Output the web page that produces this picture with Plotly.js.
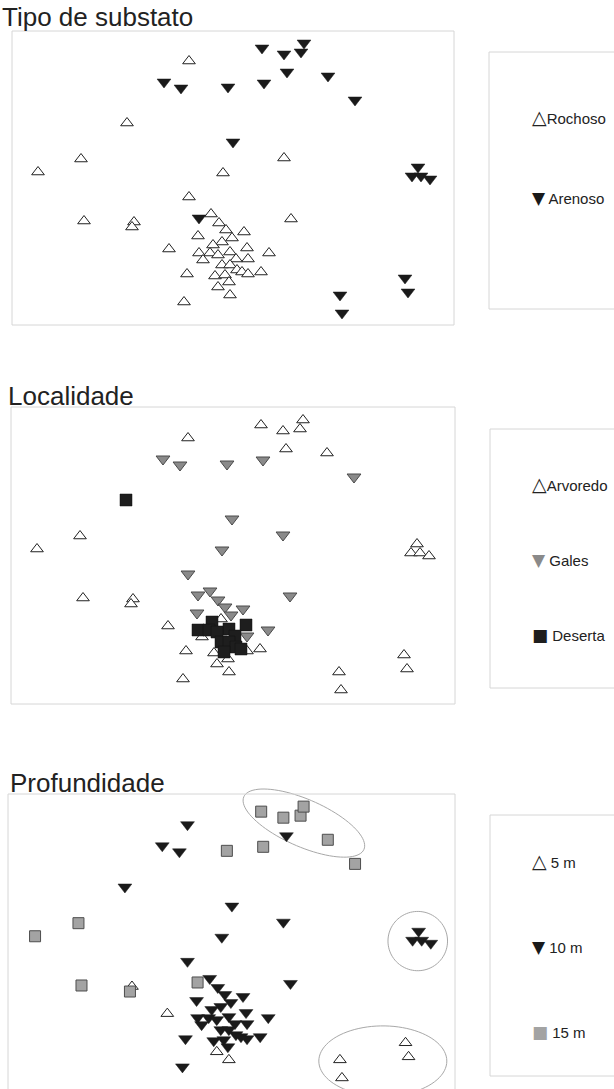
<!DOCTYPE html>
<html>
<head>
<meta charset="utf-8">
<script src="https://cdn.plot.ly/plotly-3.0.1.min.js"></script>
<style>html,body{margin:0;padding:0;background:#fff;}#chart{width:614px;height:1089px;}</style>
</head>
<body>
<div id="chart"></div>
<script>
// nMDS ordination scores (same samples shown in all three panels)
const nmds1 = [0.29,0.51,0.68,0.71,0.54,0.95,1.22,-0.69,-0.52,-0.05,0.31,0.00,1.85,1.79,1.88,1.97,-0.34,1.72,1.75,1.07,1.09,
  -0.44,-1.06,-1.52,-1.95,0.51,-0.10,-0.44,-1.49,-0.99,-1.01,0.58,-0.64,-0.46,-0.49,-0.03,-0.15,0.36,0.28,
  -0.22,-0.14,-0.07,0.11,-0.35,-0.01,-0.11,-0.20,0.14,-0.03,-0.34,-0.23,-0.30,-0.15,0.15,0.03,-0.11,-0.03,0.04,-0.18,-0.08,0.09,0.15,-0.04];
const nmds2 = [1.30,1.24,1.26,1.35,1.06,1.02,0.78,0.96,0.90,0.91,0.95,0.36,0.11,0.02,0.02,-0.01,-0.40,-1.00,-1.14,-1.17,-1.35,
  1.17,0.55,0.19,0.06,0.20,0.05,-0.19,-0.43,-0.44,-0.49,-0.41,-0.71,-0.96,-1.24,-1.17,-1.09,-0.75,-0.94,
  -0.36,-0.45,-0.52,-0.54,-0.58,-0.60,-0.64,-0.67,-0.70,-0.74,-0.75,-0.75,-0.82,-0.77,-0.81,-0.81,-0.87,-0.87,-0.92,-0.98,-0.97,-0.94,-0.96,-1.04];
const substrate = [
  'Arenoso','Arenoso','Arenoso','Arenoso','Arenoso','Arenoso','Arenoso','Arenoso','Arenoso','Arenoso','Arenoso','Arenoso','Arenoso','Arenoso','Arenoso','Arenoso','Arenoso','Arenoso','Arenoso','Arenoso','Arenoso',
  'Rochoso','Rochoso','Rochoso','Rochoso','Rochoso','Rochoso','Rochoso','Rochoso','Rochoso','Rochoso','Rochoso','Rochoso','Rochoso','Rochoso','Rochoso','Rochoso','Rochoso','Rochoso',
  'Rochoso','Rochoso','Rochoso','Rochoso','Rochoso','Rochoso','Rochoso','Rochoso','Rochoso','Rochoso','Rochoso','Rochoso','Rochoso','Rochoso','Rochoso','Rochoso','Rochoso','Rochoso','Rochoso','Rochoso','Rochoso','Rochoso','Rochoso','Rochoso'];
const locality = [
  'Arvoredo','Arvoredo','Arvoredo','Arvoredo','Arvoredo','Arvoredo','Gales','Gales','Gales','Gales','Gales','Gales','Arvoredo','Arvoredo','Arvoredo','Arvoredo','Gales','Arvoredo','Arvoredo','Arvoredo','Arvoredo',
  'Arvoredo','Deserta','Arvoredo','Arvoredo','Gales','Gales','Gales','Arvoredo','Arvoredo','Arvoredo','Gales','Arvoredo','Arvoredo','Arvoredo','Arvoredo','Arvoredo','Gales','Arvoredo',
  'Gales','Gales','Gales','Gales','Gales','Gales','Arvoredo','Deserta','Deserta','Deserta','Deserta','Deserta','Arvoredo','Deserta','Gales','Deserta','Deserta','Deserta','Deserta','Arvoredo','Deserta','Deserta','Arvoredo','Arvoredo'];
const depth = [
  '15 m','15 m','15 m','15 m','10 m','15 m','15 m','10 m','10 m','15 m','15 m','10 m','10 m','10 m','10 m','10 m','15 m','5 m','5 m','5 m','5 m',
  '10 m','10 m','15 m','15 m','10 m','10 m','10 m','15 m','5 m','15 m','10 m','5 m','10 m','10 m','5 m','5 m','10 m','10 m',
  '10 m','10 m','10 m','10 m','10 m','10 m','10 m','10 m','10 m','10 m','10 m','10 m','10 m','10 m','10 m','10 m','10 m','10 m','10 m','10 m','10 m','10 m','10 m','10 m'];

const substrateLevels = ['Rochoso','Arenoso'];
const localityLevels = ['Arvoredo','Gales','Deserta'];
const depthLevels = ['5 m','10 m','15 m'];

// depth-group envelopes drawn on the third panel: centre, semi-axes, rotation (deg)
const envelopes = [
  {cx: 0.713, cy: 1.186, a: 0.65, b: 0.235, ang: -23.8},
  {cx: 1.841, cy: 0.012, a: 0.295, b: 0.295, ang: 0},
  {cx: 1.495, cy: -1.182, a: 0.634, b: 0.35, ang: 0}
];

const styles = {
  'Rochoso': {symbol:'triangle-up', size:11, color:'#ffffff', line:{color:'#222', width:1}},
  'Arenoso': {symbol:'triangle-down', size:12, color:'#1a1a1a', line:{color:'#1a1a1a', width:0.5}},
  'Arvoredo': {symbol:'triangle-up', size:11, color:'#ffffff', line:{color:'#222', width:1}},
  'Gales': {symbol:'triangle-down', size:12, color:'#8a8a8a', line:{color:'#4a4a4a', width:1}},
  'Deserta': {symbol:'square', size:12, color:'#1e1e1e', line:{color:'#111', width:0.5}},
  '5 m': {symbol:'triangle-up', size:11, color:'#ffffff', line:{color:'#222', width:1}},
  '10 m': {symbol:'triangle-down', size:12, color:'#1a1a1a', line:{color:'#1a1a1a', width:0.5}},
  '15 m': {symbol:'square', size:11, color:'#a3a3a3', line:{color:'#4d4d4d', width:1}}
};

function groupTraces(groupArr, levels, xa, ya) {
  return levels.map(lv => {
    const xs = [], ys = [];
    groupArr.forEach((g, i) => { if (g === lv) { xs.push(nmds1[i]); ys.push(nmds2[i]); } });
    return {type:'scatter', mode:'markers', x:xs, y:ys, xaxis:xa, yaxis:ya, name:lv,
      marker: styles[lv], hoverinfo:'skip', cliponaxis:false};
  });
}

const traces = [].concat(
  groupTraces(substrate, substrateLevels, 'x', 'y'),
  groupTraces(locality, localityLevels, 'x2', 'y2'),
  groupTraces(depth, depthLevels, 'x3', 'y3')
);

const W = 614, H = 1089;
const px = v => v / W;
const py = v => 1 - v / H;

function ellipsePath(e) {
  const th = e.ang * Math.PI / 180;
  let s = '';
  for (let i = 0; i <= 90; i++) {
    const t = 2 * Math.PI * i / 90;
    const ux = e.a * Math.cos(t), uy = e.b * Math.sin(t);
    const x = e.cx + ux * Math.cos(th) - uy * Math.sin(th);
    const y = e.cy + ux * Math.sin(th) + uy * Math.cos(th);
    s += (i === 0 ? 'M' : 'L') + x.toFixed(4) + ',' + y.toFixed(4);
  }
  return s + 'Z';
}

const frameCol = '#d6d6d6';
const shapes = [
  {type:'rect', xref:'paper', yref:'paper', x0:px(12), x1:px(454), y0:py(325), y1:py(31), line:{color:frameCol, width:1}},
  {type:'rect', xref:'paper', yref:'paper', x0:px(11), x1:px(455), y0:py(704), y1:py(407), line:{color:frameCol, width:1}},
  {type:'path', xref:'paper', yref:'paper', path:`M${px(8)},${py(1095)} L${px(8)},${py(794)} L${px(455)},${py(794)} L${px(455)},${py(1095)}`, line:{color:frameCol, width:1}},
  // legend boxes
  {type:'path', xref:'paper', yref:'paper', path:`M${px(640)},${py(52)} L${px(489)},${py(52)} L${px(489)},${py(309)} L${px(640)},${py(309)}`, line:{color:frameCol, width:1}},
  {type:'path', xref:'paper', yref:'paper', path:`M${px(640)},${py(429)} L${px(490)},${py(429)} L${px(490)},${py(688)} L${px(640)},${py(688)}`, line:{color:frameCol, width:1}},
  {type:'path', xref:'paper', yref:'paper', path:`M${px(640)},${py(815)} L${px(490)},${py(815)} L${px(490)},${py(1076)} L${px(640)},${py(1076)}`, line:{color:frameCol, width:1}}
].concat(envelopes.map(e => ({type:'path', xref:'x3', yref:'y3', path:ellipsePath(e), line:{color:'#a8a8a8', width:1}, layer:'below'})));

const titleFont = {family:'Liberation Sans, Arial, sans-serif', size:26, color:'#222'};
const legFont = {family:'Liberation Sans, Arial, sans-serif', size:15, color:'#222'};
function ann(text, x, y, font) {
  return {xref:'paper', yref:'paper', x:px(x), y:py(y), xanchor:'left', yanchor:'middle', text:text, showarrow:false, font:font};
}
const triUp = '<span style="font-size:19px;font-family:DejaVu Sans">△</span>';
const triDn = c => `<span style="font-size:17px;font-family:DejaVu Sans;color:${c}">▼</span>`;
const sq = c => `<span style="font-size:17px;font-family:DejaVu Sans;color:${c}">■</span>`;
const annotations = [
  ann('Tipo de substato', 0, 17, titleFont),
  ann('Localidade', 6, 396, titleFont),
  ann('Profundidade', 8, 783, titleFont),
  ann(triUp + 'Rochoso', 530, 117, legFont),
  ann(triDn('#1a1a1a') + ' Arenoso', 530, 198, legFont),
  ann(triUp + 'Arvoredo', 530, 484, legFont),
  ann(triDn('#8a8a8a') + ' Gales', 530, 560, legFont),
  ann(sq('#1e1e1e') + ' Deserta', 530, 635, legFont),
  ann(triUp + ' 5 m', 530, 861, legFont),
  ann(triDn('#1a1a1a') + ' 10 m', 530, 947, legFont),
  ann(sq('#a3a3a3') + ' 15 m', 530, 1032, legFont)
];

const hidden = {showgrid:false, zeroline:false, showticklabels:false, showline:false, ticks:'', fixedrange:true};
const layout = {
  width: W, height: H, margin:{l:0, r:0, t:0, b:0}, paper_bgcolor:'#fff', plot_bgcolor:'rgba(0,0,0,0)',
  showlegend:false,
  xaxis: Object.assign({domain:[px(12), px(454)], range:[-2.21, 2.21]}, hidden),
  yaxis: Object.assign({domain:[py(325), py(31)], range:[-1.47, 1.47]}, hidden),
  xaxis2: Object.assign({domain:[px(11), px(455)], range:[-2.21, 2.23]}, hidden),
  yaxis2: Object.assign({domain:[py(704), py(407)], range:[-1.49, 1.48]}, hidden),
  xaxis3: Object.assign({domain:[px(8), px(455)], range:[-2.218, 2.21]}, hidden),
  yaxis3: Object.assign({domain:[0, py(784)], range:[-1.46, 1.575]}, hidden),
  shapes: shapes,
  annotations: annotations
};

Plotly.newPlot('chart', traces, layout, {staticPlot:true, displayModeBar:false});
</script>
</body>
</html>
